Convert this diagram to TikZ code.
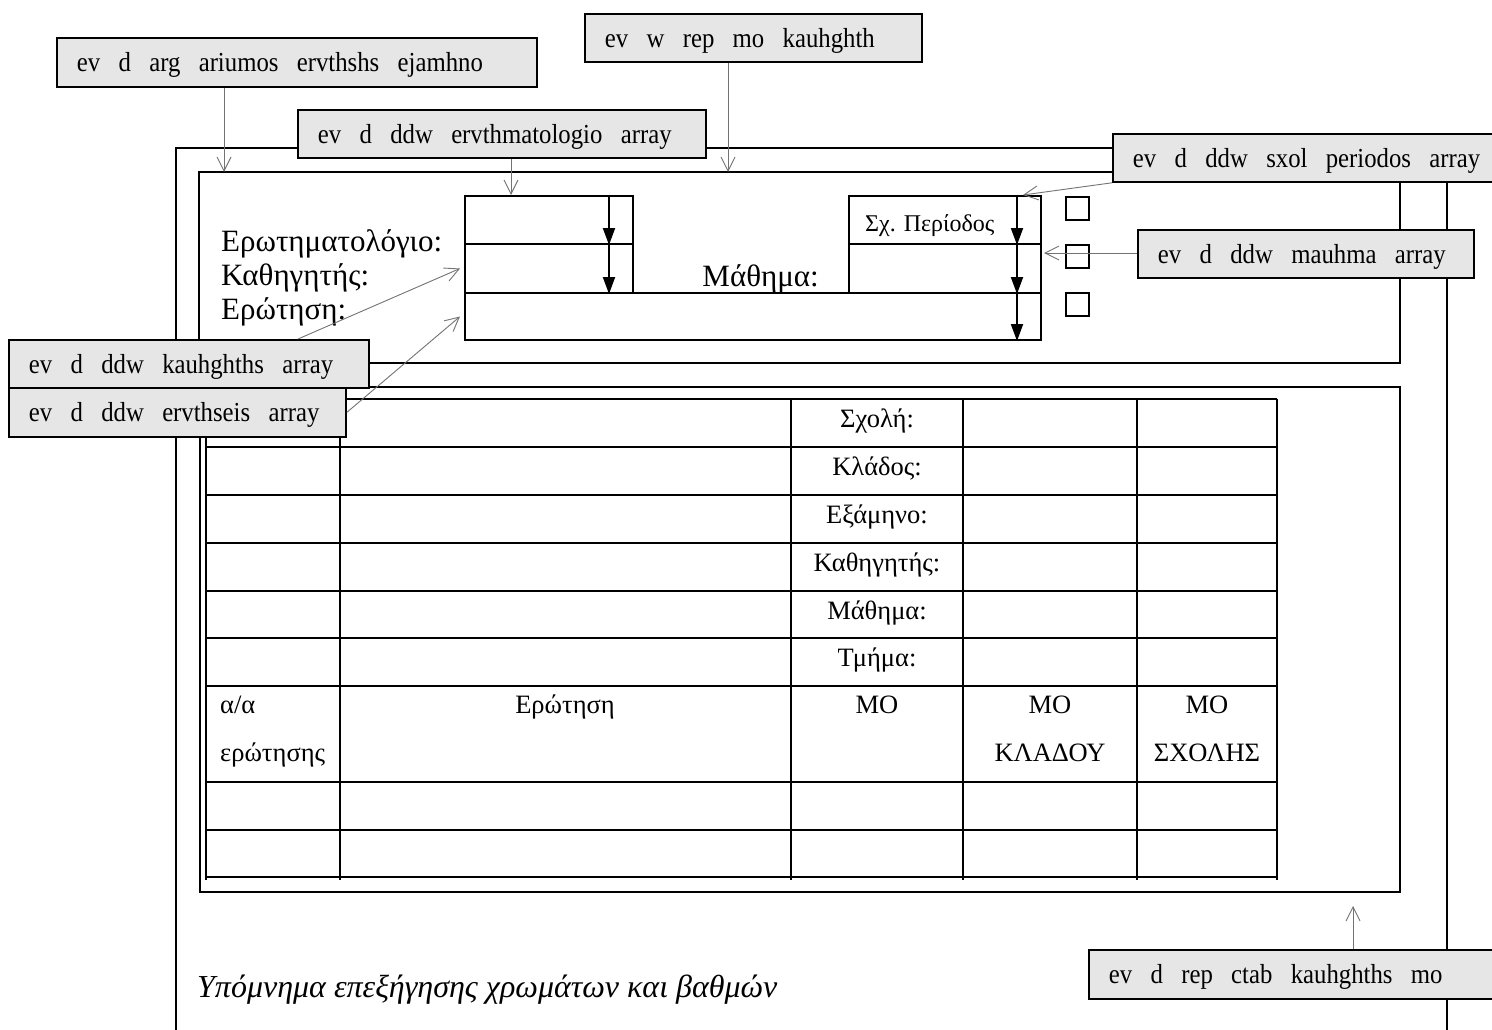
\documentclass[tikz,border=0pt]{standalone}
\usepackage{fontspec}
\setmainfont{Liberation Serif}
\newfontfamily\calloutfamily[FakeStretch=0.9]{Liberation Serif}
\usetikzlibrary{arrows.meta}
\definecolor{calloutgray}{RGB}{230,230,230}
\definecolor{pointergray}{RGB}{115,115,115}
\begin{document}
\begin{tikzpicture}[x=1pt,y=-1pt,
  frame/.style={line width=2pt},
  tbl/.style={line width=2.5pt},
  callout/.style={draw, line width=1.8pt, fill=calloutgray, anchor=north west,
    inner xsep=20pt, inner ysep=0pt, align=left, text height=19pt, text depth=0pt,
    font={\calloutfamily\fontsize{27.5}{32}\selectfont}},
  combo/.style={draw, line width=2pt, anchor=north west, inner sep=0pt},
  chkbox/.style={draw, line width=1.6pt, anchor=north west, inner sep=0pt, minimum width=23pt, minimum height=23pt},
  pointer/.style={draw=pointergray, line width=0.9pt, -{Straight Barb[length=14pt,width=14pt,line width=0.9pt]}},
  droparrow/.style={line width=2pt, -{Triangle[length=17pt,width=12pt]}},
  formlabel/.style={anchor=base west, inner sep=0pt, font={\fontsize{31}{36}\selectfont}},
  celltext/.style={anchor=base, inner sep=0pt, font={\fontsize{26.5}{30}\selectfont}},
  cellleft/.style={anchor=base west, inner sep=0pt, font={\fontsize{26.5}{30}\selectfont}}
]
\useasboundingbox (0,0) rectangle (1492,1030);
\fill[white] (0,0) rectangle (1492,1030);
\clip (0,0) rectangle (1492,1030);

% frames
\draw[frame] (176,148) rectangle (1447,1100);
\draw[frame] (199,172) rectangle (1400,363);
\draw[frame] (200,387) rectangle (1400,892);

% form combos
\node[combo, minimum width=168pt, minimum height=48pt] (cbA) at (464,195) {};
\node[combo, minimum width=168pt, minimum height=49pt] (cbB) at (464,243) {};
\node[combo, minimum width=576pt, minimum height=47pt] (cbC) at (464,292) {};
\node[combo, minimum width=192pt, minimum height=48pt] (cbD) at (848,195) {};
\node[combo, minimum width=192pt, minimum height=49pt] (cbE) at (848,243) {};
\draw[droparrow] ([xshift=-25pt]cbA.north east) -- ([xshift=-25pt]cbA.south east);
\draw[droparrow] ([xshift=-25pt]cbB.north east) -- ([xshift=-25pt]cbB.south east);
\draw[droparrow] ([xshift=-25pt]cbC.north east) -- ([xshift=-25pt]cbC.south east);
\draw[droparrow] ([xshift=-25pt]cbD.north east) -- ([xshift=-25pt]cbD.south east);
\draw[droparrow] ([xshift=-25pt]cbE.north east) -- ([xshift=-25pt]cbE.south east);
\node[anchor=base west, inner sep=0pt, font={\fontsize{24}{28}\selectfont}] (sxper) at (865,231) {Σχ. Περίοδος};

\node[chkbox] (chk1) at (1065,196) {};
\node[chkbox] (chk2) at (1065,244) {};
\node[chkbox] (chk3) at (1065,292) {};

% form labels
\node[formlabel] (lq) at (221,251) {Ερωτηματολόγιο:};
\node[formlabel] (lk) at (221,285) {Καθηγητής:};
\node[formlabel] (le) at (221,319) {Ερώτηση:};
\node[formlabel, anchor=base east] (lm) at (819,286) {Μάθημα:};

% table
\foreach \yy in {399,447,495,543,591,638,686,782,830,877}
  \draw[tbl] (206,\yy) -- (1277,\yy);
\foreach \xx in {206,340,791,963,1137,1277}
  \draw[tbl] (\xx,399) -- (\xx,880);

\node[celltext] (t1) at (877,427) {Σχολή:};
\node[celltext] (t2) at (877,475) {Κλάδος:};
\node[celltext] (t3) at (877,523) {Εξάμηνο:};
\node[celltext] (t4) at (877,571) {Καθηγητής:};
\node[celltext] (t5) at (877,619) {Μάθημα:};
\node[celltext] (t6) at (877,666) {Τμήμα:};
\node[cellleft] (h1) at (220,713) {α/α};
\node[cellleft] (h1b) at (220,761) {ερώτησης};
\node[celltext] (h2) at (565,713) {Ερώτηση};
\node[celltext] (h3) at (877,713) {ΜΟ};
\node[celltext] (h4) at (1050,713) {ΜΟ};
\node[celltext] (h4b) at (1050,761) {ΚΛΑΔΟΥ};
\node[celltext] (h5) at (1207,713) {ΜΟ};
\node[celltext] (h5b) at (1207,761) {ΣΧΟΛΗΣ};

\node[anchor=base west, inner sep=0pt, font={\itshape\fontsize{32}{36}\selectfont}] (legend) at (197,997) {Υπόμνημα επεξήγησης χρωμάτων και βαθμών};

% callouts
\node[callout, minimum height=49pt, text width=440pt] (c1) at (56,37) {ev\ \ d\ \ arg\ \ ariumos\ \ ervthshs\ \ ejamhno};
\node[callout, minimum height=48pt, text width=297pt] (c2) at (584,13) {ev\ \ w\ \ rep\ \ mo\ \ kauhghth};
\node[callout, minimum height=48pt, text width=368pt] (c3) at (297,109) {ev\ \ d\ \ ddw\ \ ervthmatologio\ \ array};
\node[callout, minimum height=48pt, text width=358pt] (c4) at (1112,133) {ev\ \ d\ \ ddw\ \ sxol\ \ periodos\ \ array};
\node[callout, minimum height=48pt, text width=296pt] (c5) at (1137,229) {ev\ \ d\ \ ddw\ \ mauhma\ \ array};
\node[callout, minimum height=48pt, text width=320pt] (c6) at (8,339) {ev\ \ d\ \ ddw\ \ kauhghths\ \ array};
\node[callout, minimum height=49pt, text width=297pt] (c7) at (8,387) {ev\ \ d\ \ ddw\ \ ervthseis\ \ array};
\node[callout, minimum height=49pt, text width=392pt] (c8) at (1088,949) {ev\ \ d\ \ rep\ \ ctab\ \ kauhghths\ \ mo};

% pointers
\coordinate (p1) at (224,172);
\coordinate (p2) at (728,172);
\coordinate (p3) at (511,195);
\coordinate (p5) at (1044,253);
\coordinate (p8) at (1353,906);
\draw[pointer] (c1.south -| p1) -- (p1);
\draw[pointer] (c2.south -| p2) -- (p2);
\draw[pointer] (c3.south -| p3) -- (p3);
\draw[pointer] (c4.south west) -- ([xshift=-19pt]cbD.north east);
\draw[pointer] (c5.west |- p5) -- (p5);
\draw[pointer] ([xshift=290pt]c6.north west) -- ([xshift=-4pt]cbB.west);
\draw[pointer] (c7.east) -- ([xshift=-4pt]cbC.west);
\draw[pointer] (c8.north -| p8) -- (p8);
\end{tikzpicture}
\end{document}
